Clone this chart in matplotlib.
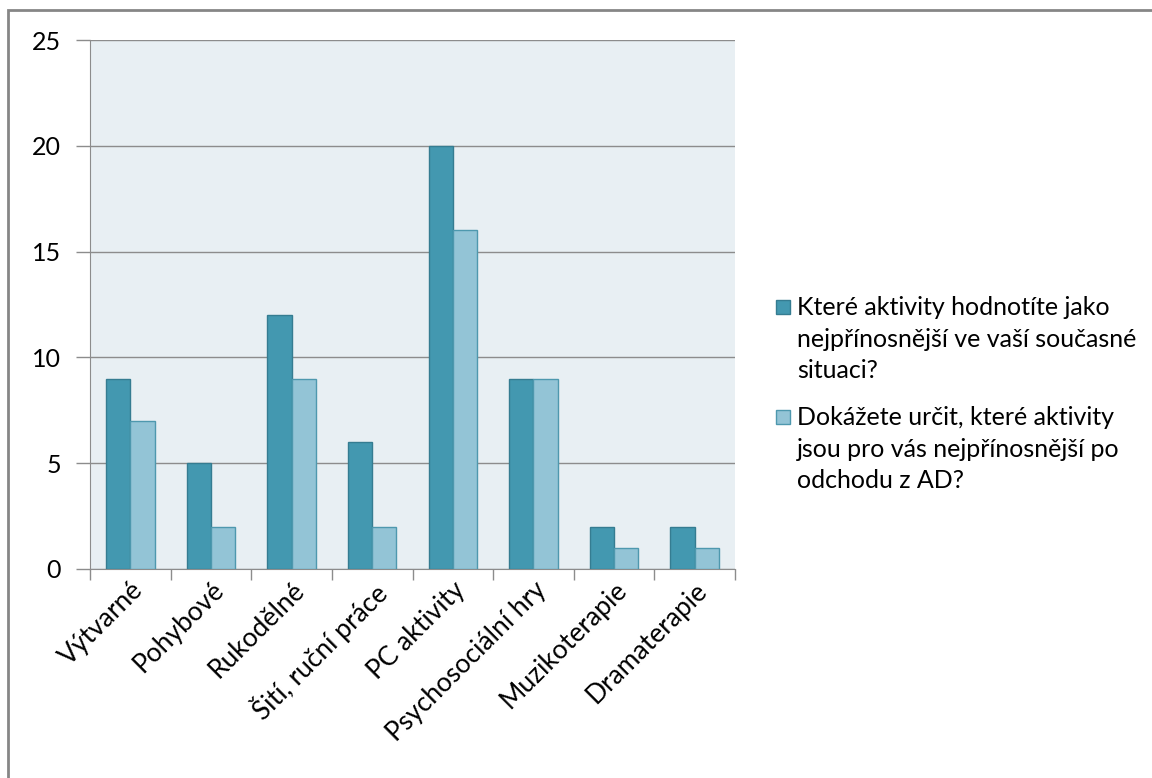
import numpy as np
import matplotlib
matplotlib.use("Agg")
import matplotlib.pyplot as plt
from matplotlib.patches import Rectangle

categories = ["Výtvarné", "Pohybové", "Rukodělné", "Šití, ruční práce",
              "PC aktivity", "Psychosociální hry", "Muzikoterapie", "Dramaterapie"]
current = [9, 5, 12, 6, 20, 9, 2, 2]
after = [7, 2, 9, 2, 16, 9, 1, 1]
labels = ["Které aktivity hodnotíte jako\nnejpřínosnější ve vaší současné\nsituaci?",
          "Dokážete určit, které aktivity\njsou pro vás nejpřínosnější po\nodchodu z AD?"]
colors = ["#4398B0", "#93C4D6"]
edges = ["#357C91", "#4E98AE"]

plt.rcParams['font.family'] = ['Lato', 'DejaVu Sans']

W, H = 1152, 778
fig = plt.figure(figsize=(W / 100, H / 100), dpi=100)
ax = fig.add_axes([90 / W, 1 - 569 / H, (735 - 90) / W, (569 - 40) / H])

# outer chart frame
fig.patches.append(Rectangle((8 / W, -0.1), 1.2, 1 - 10 / H + 0.1,
                             transform=fig.transFigure, fill=False,
                             edgecolor="#868686", linewidth=2))

x = np.arange(len(categories))
w = 0.3
ax.set_facecolor("#E8EFF3")
ax.bar(x - w / 2, current, w, color=colors[0], edgecolor=edges[0], linewidth=1, zorder=3)
ax.bar(x + w / 2, after, w, color=colors[1], edgecolor=edges[1], linewidth=1, zorder=3)

ax.set_xlim(-0.5, len(categories) - 0.5)
ax.set_ylim(0, 25)
ax.set_yticks([0, 5, 10, 15, 20, 25])
ax.yaxis.grid(True, color="#8C8C8C", linewidth=1, zorder=1)
ax.set_axisbelow(True)

ax.set_xticks(x)
ax.set_xticklabels(categories, rotation=45, ha="right", rotation_mode="anchor",
                   fontsize=19)
ax.set_xticks(np.arange(len(categories) + 1) - 0.5, minor=True)
ax.tick_params(axis="x", which="major", length=0, pad=6)
ax.tick_params(axis="x", which="minor", length=8, color="#8C8C8C", width=1)
ax.tick_params(axis="y", length=10, color="#8C8C8C", width=1, labelsize=18, pad=11)

for s in ["top", "right"]:
    ax.spines[s].set_visible(False)
for s in ["left", "bottom"]:
    ax.spines[s].set_color("#8C8C8C")

# legend drawn by hand so the square sits beside the first line
for i, (lab, c, e) in enumerate(zip(labels, colors, edges)):
    ytop = 300 + i * 110
    fig.patches.append(Rectangle((776 / W, 1 - (ytop + 14) / H), 14 / W, 14 / H,
                                 transform=fig.transFigure, facecolor=c,
                                 edgecolor=e, linewidth=1))
    fig.text(797 / W, 1 - (ytop - 4) / H, lab, fontsize=18, va="top", ha="left",
             linespacing=1.45)

fig.savefig("out.png", dpi=100)
